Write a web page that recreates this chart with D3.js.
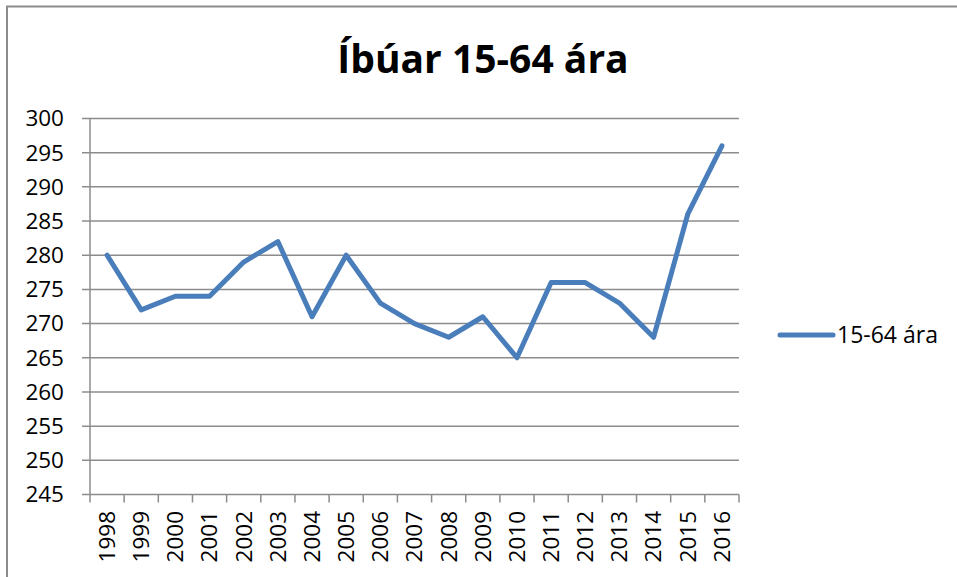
<!DOCTYPE html>
<html>
<head>
<meta charset="utf-8">
<script src="https://cdn.jsdelivr.net/npm/d3@7"></script>
<style>
  html, body { margin: 0; padding: 0; background: #fff; }
  svg { display: block; }
</style>
</head>
<body>
<svg id="chart" width="957" height="577"></svg>
<script>
const titleText = "Íbúar 15-64 ára";
const seriesName = "15-64 ára";
const years = ["1998","1999","2000","2001","2002","2003","2004","2005","2006","2007","2008","2009","2010","2011","2012","2013","2014","2015","2016"];
const values = [280,272,274,274,279,282,271,280,273,270,268,271,265,276,276,273,268,286,296];
const yTicks = [245,250,255,260,265,270,275,280,285,290,295,300];

const svg = d3.select("#chart");
const font = "'Open Sans', sans-serif";
const plot = {left: 90, right: 739, top: 118.5, bottom: 494.5};

// outer border (top + left only visible)
svg.append("line").attr("x1", 6).attr("x2", 957).attr("y1", 6.5).attr("y2", 6.5)
  .attr("stroke", "#8c8c8c").attr("stroke-width", 2);
svg.append("line").attr("x1", 7).attr("x2", 7).attr("y1", 6).attr("y2", 577)
  .attr("stroke", "#8c8c8c").attr("stroke-width", 2);

const x = d3.scaleBand().domain(years).range([plot.left, plot.right]).padding(0);
const y = d3.scaleLinear().domain([245, 300]).range([plot.bottom, plot.top]);

// gridlines
svg.append("g").selectAll("line").data(yTicks).join("line")
  .attr("x1", plot.left - 8).attr("x2", plot.right)
  .attr("y1", d => y(d)).attr("y2", d => y(d))
  .attr("stroke", "#8c8c8c").attr("stroke-width", 1.5);

// y axis
svg.append("line").attr("x1", plot.left).attr("x2", plot.left)
  .attr("y1", plot.top).attr("y2", plot.bottom)
  .attr("stroke", "#8c8c8c").attr("stroke-width", 1.5);
svg.append("g").selectAll("text").data(yTicks).join("text")
  .attr("x", 64).attr("y", d => y(d)).attr("dy", "0.35em")
  .attr("text-anchor", "end")
  .attr("font-family", font).attr("font-size", 22.5).attr("fill", "#000")
  .text(d => d);

// x axis ticks
const xTickPos = years.map(d => x(d)).concat([plot.right]);
svg.append("g").selectAll("line").data(xTickPos).join("line")
  .attr("x1", d => d).attr("x2", d => d)
  .attr("y1", plot.bottom).attr("y2", plot.bottom + 8)
  .attr("stroke", "#8c8c8c").attr("stroke-width", 1.5);
svg.append("g").selectAll("text").data(years).join("text")
  .attr("transform", d => `translate(${x(d) + x.bandwidth() / 2},511) rotate(-90)`)
  .attr("text-anchor", "end").attr("dy", "0.35em")
  .attr("font-family", font).attr("font-size", 22.5).attr("fill", "#000")
  .text(d => d);

// line
const line = d3.line()
  .x((d, i) => x(years[i]) + x.bandwidth() / 2)
  .y(d => y(d));
svg.append("path").datum(values)
  .attr("d", line).attr("fill", "none")
  .attr("stroke", "#4a7ebb").attr("stroke-width", 5)
  .attr("stroke-linejoin", "round").attr("stroke-linecap", "round");

// title
svg.append("text").attr("x", 483).attr("y", 73).attr("text-anchor", "middle")
  .attr("font-family", font).attr("font-weight", "bold").attr("font-size", 39)
  .attr("fill", "#000").text(titleText);

// legend
svg.append("line").attr("x1", 780).attr("x2", 833).attr("y1", 335).attr("y2", 335)
  .attr("stroke", "#4a7ebb").attr("stroke-width", 5).attr("stroke-linecap", "round");
svg.append("text").attr("x", 837).attr("y", 335).attr("dy", "0.35em")
  .attr("font-family", font).attr("font-size", 23).attr("fill", "#000")
  .text(seriesName);
</script>
</body>
</html>
